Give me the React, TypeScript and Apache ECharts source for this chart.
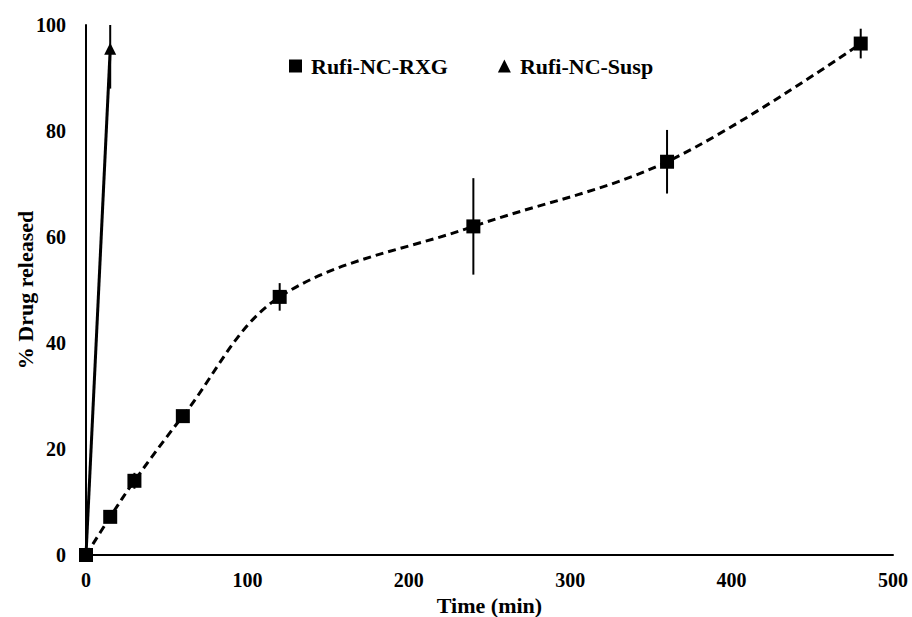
import React, { useEffect, useRef } from "react";
import * as echarts from "echarts";

const timeRXG = [0, 15, 30, 60, 120, 240, 360, 480];
const releaseRXG = [0, 7.2, 14, 26.2, 48.7, 62, 74.2, 96.5];
const errRXG = [0, 0.8, 1.5, 1.0, 2.6, 9.1, 6.0, 2.8];
const timeSusp = [0, 15];
const releaseSusp = [0, 95.5];
const errSusp = [0, 7.5];
const xTicks = [0, 100, 200, 300, 400, 500];
const yTicks = [0, 20, 40, 60, 80, 100];

const FONT = "'Liberation Serif', 'Times New Roman', serif";

export default function App() {
  const ref = useRef<HTMLDivElement>(null);
  useEffect(() => {
    if (!ref.current) return;
    const chart = echarts.init(ref.current, null, { renderer: "svg" });
    const rxg = timeRXG.map((t, i) => [t, releaseRXG[i]]);
    const susp = timeSusp.map((t, i) => [t, releaseSusp[i]]);
    const errData = [
      ...timeRXG.map((t, i) => [t, releaseRXG[i] - errRXG[i], releaseRXG[i] + errRXG[i]]),
      ...timeSusp.map((t, i) => [t, releaseSusp[i] - errSusp[i], Math.min(100, releaseSusp[i] + errSusp[i])]),
    ].filter((d) => d[2] - d[1] > 0);
    chart.setOption({
      animation: false,
      textStyle: { fontFamily: FONT },
      grid: { left: 86, right: 19, top: 25, bottom: 62, outerBoundsMode: "none", containLabel: false },
      legend: {
        left: 284,
        top: 50,
        itemGap: 50,
        itemWidth: 13,
        itemHeight: 13,
        textStyle: { fontFamily: FONT, fontWeight: "bold", fontSize: 22, color: "#000", padding: [0, 0, 0, 4] },
        data: [
          { name: "Rufi-NC-RXG", icon: "rect" },
          { name: "Rufi-NC-Susp", icon: "triangle", itemStyle: { color: "#000" } },
        ],
      },
      xAxis: {
        type: "value",
        min: xTicks[0],
        max: xTicks[xTicks.length - 1],
        interval: 100,
        name: "Time (min)",
        nameLocation: "middle",
        nameGap: 35,
        nameTextStyle: { fontFamily: FONT, fontWeight: "bold", fontSize: 22, color: "#000" },
        axisLine: { show: true, onZero: false, lineStyle: { color: "#000", width: 2 } },
        axisTick: { show: false },
        splitLine: { show: false },
        axisLabel: { fontFamily: FONT, fontWeight: "bold", fontSize: 20, color: "#000", margin: 15 },
      },
      yAxis: {
        type: "value",
        min: yTicks[0],
        max: yTicks[yTicks.length - 1],
        interval: 20,
        name: "% Drug released",
        nameLocation: "middle",
        nameGap: 50,
        nameMoveOverlap: false,
        nameTextStyle: { fontFamily: FONT, fontWeight: "bold", fontSize: 22, color: "#000" },
        axisLine: { show: true, lineStyle: { color: "#000", width: 2 } },
        axisTick: { show: false },
        splitLine: { show: false },
        axisLabel: { fontFamily: FONT, fontWeight: "bold", fontSize: 20, color: "#000", margin: 20 },
      },
      series: [
        {
          name: "Rufi-NC-RXG",
          type: "line",
          data: rxg,
          smooth: 0.35,
          symbol: "rect",
          symbolSize: 14,
          itemStyle: { color: "#000" },
          lineStyle: { color: "#000", width: 3, type: [8, 5] },
          z: 3,
        },
        {
          name: "Rufi-NC-Susp",
          type: "line",
          data: susp,
          symbol: "triangle",
          symbolSize: 12,
          itemStyle: { color: "#000" },
          lineStyle: { color: "#000", width: 3 },
          z: 3,
        },
        {
          type: "custom",
          name: "err",
          data: errData,
          z: 4,
          renderItem: (params: any, api: any) => {
            const x = api.value(0);
            const lo = api.coord([x, api.value(1)]);
            const hi = api.coord([x, api.value(2)]);
            return {
              type: "line",
              shape: { x1: lo[0], y1: lo[1], x2: hi[0], y2: hi[1] },
              style: { stroke: "#000", lineWidth: 2 },
            };
          },
          encode: { x: 0, y: [1, 2] },
        },
      ],
    });
    return () => chart.dispose();
  }, []);
  return <div ref={ref} style={{ position: "absolute", left: 0, top: 0, width: 912, height: 617 }} />;
}
